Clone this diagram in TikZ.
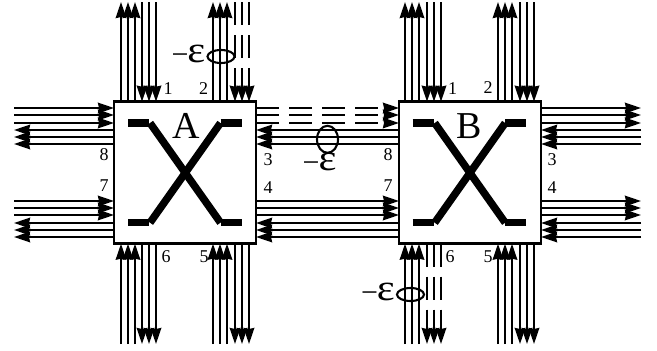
\documentclass[tikz,border=0pt]{standalone}
\usepackage{fontspec}
\setmainfont{Liberation Serif}
\newfontfamily\widefont[FakeStretch=1.15]{Liberation Serif}
\newcommand{\lossmark}{\raisebox{-1.5pt}{\fontsize{30}{30}\selectfont −}\kern-1pt{\widefont\fontsize{37}{37}\selectfont ε}}
\usetikzlibrary{arrows.meta,shapes.geometric}
\tikzset{
  x=1pt,y=-1pt,
  sig/.style={line width=2.1pt,black},
  inp/.style={sig,-{Stealth[length=16pt,width=10.5pt,inset=1pt]}},
  dsh/.style={dash pattern=on 23pt off 10pt},
  switchbox/.style={draw,line width=2.6pt,fill=white,minimum size=142pt,inner sep=0pt,outer sep=0pt},
  bar/.style={line width=7.5pt,line cap=butt},
  port/.style={font=\fontsize{18}{18}\selectfont,inner sep=0pt},
  boxname/.style={font=\fontsize{38}{38}\selectfont,inner sep=0pt,anchor=base},
  loss/.style={draw,ellipse,line width=2.1pt,inner sep=0pt,outer sep=0pt},
  losstext/.style={inner sep=0pt}
}
\begin{document}
\begin{tikzpicture}
\useasboundingbox (0,0) rectangle (657,351);
\fill[white] (0,0) rectangle (657,351);
\node[switchbox] (A) at (185,172.7) {};
\node[switchbox] (B) at (470,172.7) {};
% free ends
\coordinate (T) at (0,2);
\coordinate (U) at (0,344);
\coordinate (L) at (14,0);
\coordinate (R) at (641,0);
% vertical bundles
\foreach \x in {121,128,135,213,220,227,405,412,419,498,505,512}{
  \draw[inp] (\x,0 |- A.north) -- (\x,0 |- T);
  \draw[inp] (\x,0 |- U) -- (\x,0 |- A.south);
}
\foreach \x in {142,149,156,427,434,441,520,527,534}{
  \draw[inp] (\x,0 |- T) -- (\x,0 |- A.north);
}
\foreach \x in {142,149,156,235,242,249,520,527,534}{
  \draw[inp] (\x,0 |- A.south) -- (\x,0 |- U);
}
\foreach \x in {235,242,249}{
  \draw[inp,dsh] (\x,0 |- T) -- (\x,0 |- A.north);
}
\foreach \x in {427,434,441}{
  \draw[inp,dsh] (\x,0 |- B.south) -- (\x,0 |- U);
}
% horizontal bundles
\foreach \y in {108,115,123,201,208,215}{
  \draw[inp] (L |- 0,\y) -- (A.west |- 0,\y);
  \draw[inp] (B.east |- 0,\y) -- (R |- 0,\y);
}
\foreach \y in {130,137,144,223,230,237}{
  \draw[inp] (A.west |- 0,\y) -- (L |- 0,\y);
  \draw[inp] (R |- 0,\y) -- (B.east |- 0,\y);
  \draw[inp] (B.west |- 0,\y) -- (A.east |- 0,\y);
}
\foreach \y in {201,208,215}{
  \draw[inp] (A.east |- 0,\y) -- (B.west |- 0,\y);
}
\foreach \y in {108,115,123}{
  \draw[inp,dsh] (A.east |- 0,\y) -- (B.west |- 0,\y);
}
% crossbars drawn over the box
\foreach \o in {0,284.7}{
  \begin{scope}[xshift=\o pt]
    \draw[bar] (128,123) -- (149,123);
    \draw[bar] (220.7,123) -- (241.7,123);
    \draw[bar] (128,222.7) -- (149,222.7);
    \draw[bar] (220.7,222.7) -- (241.7,222.7);
    \draw[bar] (150,123) -- (220.5,222.7);
    \draw[bar] (220.5,123) -- (150,222.7);
  \end{scope}
}
% names
\node[boxname] (nA) at (186,138) {A};
\node[boxname] (nB) at (469,138) {B};
% port labels
\node[port] (a1) at (168,89) {1};
\node[port] (a2) at (203.7,89) {2};
\node[port] (a8) at (104,155) {8};
\node[port] (a3) at (268,160) {3};
\node[port] (a7) at (104,186) {7};
\node[port] (a4) at (268,188) {4};
\node[port] (a6) at (166,257) {6};
\node[port] (a5) at (204,257) {5};
\node[port] (b1) at (452.7,89) {1};
\node[port] (b2) at (488,88) {2};
\node[port] (b8) at (388,155) {8};
\node[port] (b3) at (552,160) {3};
\node[port] (b7) at (388,186) {7};
\node[port] (b4) at (552,188) {4};
\node[port] (b6) at (450,257) {6};
\node[port] (b5) at (488,257) {5};
% loss ellipses
\node[loss,minimum width=27pt,minimum height=13pt] (e1) at (221,56.5) {};
\node[loss,minimum width=21pt,minimum height=27pt] (e2) at (327.5,139.3) {};
\node[loss,minimum width=27pt,minimum height=13pt] (e3) at (410.5,294.5) {};
\node[losstext,anchor=east] (t1) at (205.5,55) {\lossmark};
\node[losstext] (t2) at (319.5,163) {\lossmark};
\node[losstext,anchor=east] (t3) at (395,293) {\lossmark};
\end{tikzpicture}
\end{document}
